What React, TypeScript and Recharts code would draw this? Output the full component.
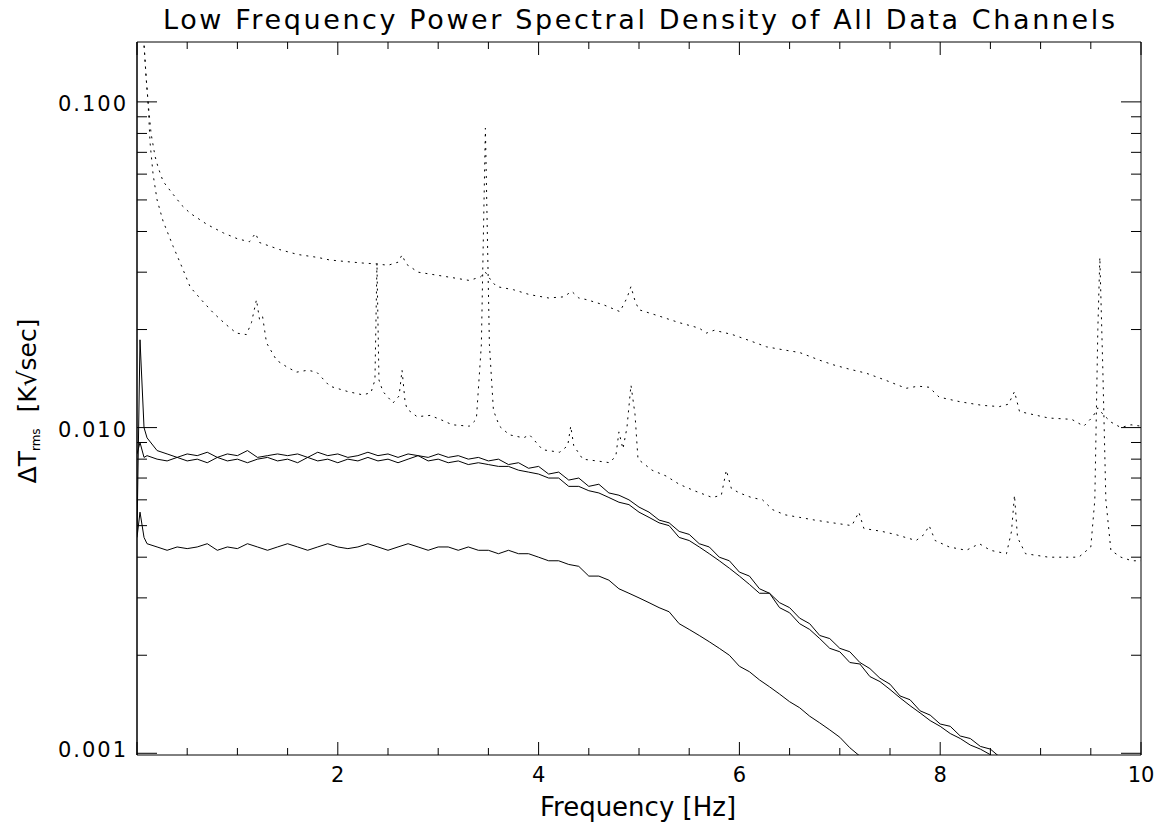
import React from 'react';
import { LineChart, Line, XAxis, YAxis, Customized } from 'recharts';

// ---------- axis definitions ----------
const xTicks = [0, 0.5, 1, 1.5, 2, 2.5, 3, 3.5, 4, 4.5, 5, 5.5, 6, 6.5, 7, 7.5, 8, 8.5, 9, 9.5, 10];
const xMajor = [0, 2, 4, 6, 8, 10];
const xLabeled = [2, 4, 6, 8, 10];
const yTicks = [0.001, 0.002, 0.003, 0.004, 0.005, 0.006, 0.007, 0.008, 0.009,
  0.01, 0.02, 0.03, 0.04, 0.05, 0.06, 0.07, 0.08, 0.09, 0.1];
const yMajor = [0.001, 0.01, 0.1];

// ---------- solid channels (shared frequency grid, Hz) ----------
const solidFreq = [0, 0.03, 0.07,
  0.1, 0.2, 0.3, 0.4, 0.5, 0.6, 0.7, 0.8, 0.9, 1.0,
  1.1, 1.2, 1.3, 1.4, 1.5, 1.6, 1.7, 1.8, 1.9, 2.0,
  2.1, 2.2, 2.3, 2.4, 2.5, 2.6, 2.7, 2.8, 2.9, 3.0,
  3.1, 3.2, 3.3, 3.4, 3.5, 3.6, 3.7, 3.8, 3.9, 4.0,
  4.1, 4.2, 4.3, 4.4, 4.5, 4.6, 4.7, 4.8, 4.9, 5.0,
  5.1, 5.2, 5.3, 5.4, 5.5, 5.6, 5.7, 5.8, 5.9, 6.0,
  6.1, 6.2, 6.3, 6.4, 6.5, 6.6, 6.7, 6.8, 6.9, 7.0,
  7.1, 7.2, 7.3, 7.4, 7.5, 7.6, 7.7, 7.8, 7.9, 8.0,
  8.1, 8.2, 8.3, 8.4, 8.5, 8.6, 8.7, 8.8];

const channelA = [0.0047, 0.0186, 0.0100,
  0.0093, 0.0085, 0.0083, 0.0081, 0.0083, 0.0082, 0.0084, 0.0081, 0.0083, 0.0082,
  0.0085, 0.0081, 0.0082, 0.0083, 0.0082, 0.0083, 0.0081, 0.0084, 0.0082, 0.0083,
  0.0081, 0.0082, 0.0084, 0.0082, 0.0083, 0.0081, 0.0083, 0.0082, 0.0081, 0.0083,
  0.0081, 0.0082, 0.0080, 0.0081, 0.0079, 0.0080, 0.0077, 0.0078, 0.0075, 0.0076,
  0.0072, 0.0073, 0.0069, 0.0070, 0.0066, 0.0067, 0.0063, 0.0062, 0.0060, 0.0057,
  0.0055, 0.0052, 0.0051, 0.0048, 0.0047, 0.0044, 0.0043, 0.0040, 0.0039, 0.0036,
  0.0035, 0.0032, 0.0031, 0.0029, 0.0028, 0.0026, 0.0025, 0.0023, 0.00225, 0.0021,
  0.00205, 0.0019, 0.00182, 0.0017, 0.00163, 0.0015, 0.00146, 0.00135, 0.00131, 0.00123,
  0.00121, 0.00113, 0.00111, 0.00105, 0.00103, 0.00097, 0.00096, 0.00091];

const channelB = [0.0083, 0.0090, 0.0081,
  0.0082, 0.0080, 0.0079, 0.0081, 0.0079, 0.0080, 0.0078, 0.0081, 0.0079, 0.0080,
  0.0078, 0.0080, 0.0081, 0.0079, 0.0080, 0.0078, 0.0081, 0.0079, 0.0080, 0.0078,
  0.0080, 0.0079, 0.0081, 0.0079, 0.0080, 0.0078, 0.0080, 0.0082, 0.0079, 0.0080,
  0.0078, 0.0079, 0.0077, 0.0078, 0.0077, 0.0076, 0.0076, 0.0074, 0.0073, 0.0072,
  0.0070, 0.0070, 0.0066, 0.0066, 0.0064, 0.0063, 0.0061, 0.0059, 0.0058, 0.0055,
  0.0053, 0.0051, 0.0050, 0.0046, 0.0045, 0.0043, 0.0041, 0.0039, 0.0037, 0.0035,
  0.0033, 0.0031, 0.0031, 0.0028, 0.0027, 0.0025, 0.0024, 0.00225, 0.0021, 0.00205,
  0.0019, 0.00188, 0.00172, 0.00166, 0.00157, 0.00148, 0.0014, 0.00133, 0.00126, 0.00121,
  0.00115, 0.00111, 0.00106, 0.00103, 0.00099, 0.00094];

const channelC = [0.0046, 0.0055, 0.0046,
  0.0044, 0.0043, 0.0042, 0.0043, 0.00425, 0.0043, 0.0044, 0.0042, 0.0043, 0.00425,
  0.0044, 0.0043, 0.0042, 0.0043, 0.0044, 0.0043, 0.0042, 0.0043, 0.0044, 0.0043,
  0.00425, 0.0043, 0.0044, 0.0043, 0.0042, 0.0043, 0.0044, 0.0043, 0.0042, 0.0043,
  0.0043, 0.0042, 0.0043, 0.0042, 0.0042, 0.0041, 0.0042, 0.0041, 0.0041, 0.0040,
  0.0039, 0.0039, 0.0038, 0.00375, 0.0035, 0.0035, 0.0034, 0.0032, 0.0031, 0.0030,
  0.0029, 0.0028, 0.00272, 0.0025, 0.0024, 0.0023, 0.0022, 0.0021, 0.0020, 0.00185,
  0.00178, 0.00168, 0.0016, 0.00152, 0.00144, 0.00138, 0.0013, 0.00124, 0.00118, 0.00112,
  0.00104, 0.00098];

// ---------- dotted channels ----------
const upperDotFreq = [0.04, 0.07, 0.09, 0.11, 0.14, 0.18, 0.21, 0.26, 0.36, 0.45, 0.53, 0.7, 0.86, 1.0,
  1.12, 1.18, 1.22, 1.42, 1.6, 1.8, 1.92, 2.1, 2.25, 2.39, 2.5, 2.6, 2.64, 2.68, 2.8, 2.92,
  3.1, 3.31, 3.42, 3.47, 3.52, 3.58, 3.75, 3.91, 4.1, 4.25, 4.33, 4.4, 4.48, 4.65, 4.81,
  4.88, 4.92, 4.96, 5.0, 5.2, 5.4, 5.6, 5.67, 5.75, 5.93, 6.1, 6.27, 6.45, 6.6, 6.8, 6.93,
  7.1, 7.26, 7.45, 7.66, 7.78, 7.89, 7.99, 8.2, 8.42, 8.59, 8.68, 8.74, 8.79, 9.08, 9.31,
  9.43, 9.52, 9.57, 9.62, 9.7, 9.8, 9.9, 10.0];
const upperDotVal = [0.20, 0.15, 0.12, 0.10, 0.080, 0.068, 0.063, 0.057, 0.052, 0.048, 0.0455, 0.042, 0.0396, 0.038,
  0.0372, 0.0395, 0.0370, 0.0352, 0.0340, 0.0333, 0.0327, 0.0323, 0.0320, 0.0318, 0.0315, 0.0322, 0.0339, 0.0318, 0.0300, 0.0296,
  0.0290, 0.0283, 0.0290, 0.0300, 0.0285, 0.0271, 0.0265, 0.0256, 0.0250, 0.0252, 0.0262, 0.0250, 0.0247, 0.0238, 0.0227,
  0.0250, 0.0271, 0.0245, 0.0230, 0.0220, 0.0210, 0.0202, 0.0195, 0.0199, 0.0193, 0.0185, 0.0177, 0.0173, 0.0170, 0.0161, 0.0156,
  0.0151, 0.0147, 0.0140, 0.0132, 0.0134, 0.0133, 0.0124, 0.0120, 0.0117, 0.0116, 0.0118, 0.0129, 0.0112, 0.0107, 0.0106,
  0.0101, 0.0108, 0.0115, 0.0110, 0.0104, 0.0100, 0.0102, 0.0101];

const lowerDotFreq = [0.04, 0.07, 0.09, 0.11, 0.13, 0.16, 0.2, 0.26, 0.36, 0.45, 0.53, 0.65, 0.76, 0.88, 0.99,
  1.09, 1.14, 1.19, 1.22, 1.25, 1.29, 1.39, 1.5, 1.59, 1.7, 1.79, 1.92, 2.1, 2.25, 2.33, 2.37, 2.39, 2.41,
  2.45, 2.55, 2.61, 2.64, 2.67, 2.69, 2.79, 2.92, 3.05, 3.14, 3.31, 3.38, 3.43, 3.47, 3.51, 3.55, 3.61,
  3.71, 3.85, 3.91, 4.04, 4.21, 4.29, 4.32, 4.35, 4.44, 4.58, 4.71, 4.77, 4.8, 4.84, 4.88, 4.92, 4.96,
  4.99, 5.13, 5.27, 5.4, 5.55, 5.73, 5.82, 5.87, 5.92, 6.0, 6.12, 6.23, 6.33, 6.45, 6.6, 6.75, 6.93,
  7.12, 7.19, 7.24, 7.42, 7.55, 7.76, 7.84, 7.89, 7.95, 8.09, 8.26, 8.39, 8.5, 8.66, 8.71, 8.74, 8.77,
  8.85, 9.08, 9.25, 9.38, 9.5, 9.54, 9.57, 9.59, 9.62, 9.65, 9.7, 9.8, 9.91, 10.0];
const lowerDotVal = [0.20, 0.15, 0.12, 0.10, 0.075, 0.060, 0.050, 0.043, 0.036, 0.031, 0.027, 0.0245, 0.0225, 0.0208, 0.0195,
  0.0193, 0.0210, 0.0247, 0.0215, 0.0220, 0.0182, 0.0161, 0.0153, 0.0148, 0.0150, 0.0148, 0.0134, 0.0129, 0.0126, 0.0128, 0.0140, 0.0320, 0.0140,
  0.0129, 0.0119, 0.0125, 0.0150, 0.0120, 0.0114, 0.0108, 0.0109, 0.0105, 0.0102, 0.0101, 0.0106, 0.0180, 0.0830, 0.0180, 0.0113, 0.0101,
  0.0095, 0.0093, 0.0095, 0.00855, 0.0084, 0.0088, 0.0101, 0.0088, 0.0080, 0.0079, 0.0078, 0.0082, 0.0097, 0.0086, 0.0100, 0.0135, 0.0110,
  0.0080, 0.0074, 0.0071, 0.0067, 0.0064, 0.0061, 0.0062, 0.0074, 0.0065, 0.0063, 0.0061, 0.0060, 0.0056, 0.0054, 0.0053, 0.0052, 0.0051,
  0.0050, 0.0055, 0.0049, 0.0048, 0.0047, 0.0045, 0.0047, 0.0050, 0.0045, 0.0043, 0.0042, 0.0044, 0.0042, 0.0041, 0.0048, 0.0062, 0.0046,
  0.0041, 0.0040, 0.0040, 0.0040, 0.0043, 0.0060, 0.0200, 0.0333, 0.0150, 0.0060, 0.0042, 0.0040, 0.0039, 0.0039];

const build = (freq: number[], vals: number[]) => vals.map((v, i) => ({ f: freq[i], v }));
const dataA = build(solidFreq, channelA);
const dataB = build(solidFreq, channelB);
const dataC = build(solidFreq, channelC);
const dataD1 = build(upperDotFreq, upperDotVal);
const dataD2 = build(lowerDotFreq, lowerDotVal);

const FONT = '"DejaVu Sans", "Liberation Sans", sans-serif';
const INK = '#000';

const BottomTick = (p: any) => {
  const { x, y, payload } = p;
  const v = payload.value;
  const major = xMajor.includes(v);
  return (
    <g>
      <line x1={x} x2={x} y1={y} y2={y - (major ? 13 : 7)} stroke={INK} strokeWidth={1} />
      {xLabeled.includes(v) && (
        <text x={x} y={y + 27} textAnchor="middle" fontSize={21} fontFamily={FONT} fill={INK}>{v}</text>
      )}
    </g>
  );
};
const TopTick = (p: any) => {
  const { x, y, payload } = p;
  const major = xMajor.includes(payload.value);
  return <line x1={x} x2={x} y1={y} y2={y + (major ? 13 : 7)} stroke={INK} strokeWidth={1} />;
};
const LeftTick = (p: any) => {
  const { x, y, payload } = p;
  const v = payload.value;
  const major = yMajor.includes(v);
  return (
    <g>
      <line x1={x} x2={x + (major ? 20 : 10)} y1={y} y2={y} stroke={INK} strokeWidth={1} />
      {major && (
        <text x={x - 11} y={y + (v === 0.001 ? 4 : 9)} textAnchor="end" fontSize={21} fontFamily={FONT} fill={INK}
          textLength={68} lengthAdjust="spacing">
          {v.toFixed(3)}
        </text>
      )}
    </g>
  );
};
const RightTick = (p: any) => {
  const { x, y, payload } = p;
  const major = yMajor.includes(payload.value);
  return <line x1={x} x2={x - (major ? 20 : 10)} y1={y} y2={y} stroke={INK} strokeWidth={1} />;
};

const Texts = () => (
  <g fontFamily={FONT} fill={INK}>
    <text x={639} y={29} textAnchor="middle" fontSize={27} textLength={952} lengthAdjust="spacing">
      Low Frequency Power Spectral Density of All Data Channels
    </text>
    <text x={638} y={816} textAnchor="middle" fontSize={26}>Frequency [Hz]</text>
    <text transform="translate(36,401) rotate(-90)" textAnchor="middle" fontSize={25}>
      ΔT<tspan fontSize={12} dy={4}>rms</tspan><tspan dy={-4}>{'\u00a0\u00a0[K√sec]'}</tspan>
    </text>
  </g>
);

export default function App() {
  const W = 1170;
  const H = 834;
  return (
    <div>
      <style>{'body{margin:0}'}</style>
      <LineChart width={W} height={H} margin={{ top: 41, left: 136, right: 28, bottom: 78 }}>
        <XAxis xAxisId="b" dataKey="f" type="number" domain={[0, 10]} ticks={xTicks} interval={0}
          allowDataOverflow orientation="bottom" height={1} tickSize={0} tickMargin={0} tickLine={false}
          axisLine={{ stroke: INK }} tick={BottomTick} />
        <XAxis xAxisId="t" dataKey="f" type="number" domain={[0, 10]} ticks={xTicks} interval={0}
          allowDataOverflow orientation="top" height={1} tickSize={0} tickMargin={0} tickLine={false}
          axisLine={{ stroke: INK }} tick={TopTick} />
        <YAxis yAxisId="l" dataKey="v" type="number" scale="log" domain={[0.000988, 0.1527]} ticks={yTicks}
          interval={0} allowDataOverflow orientation="left" width={1} tickSize={0} tickMargin={0} tickLine={false}
          axisLine={{ stroke: INK, strokeWidth: 1.5 }} tick={LeftTick} />
        <YAxis yAxisId="r" dataKey="v" type="number" scale="log" domain={[0.000988, 0.1527]} ticks={yTicks}
          interval={0} allowDataOverflow orientation="right" width={1} tickSize={0} tickMargin={0} tickLine={false}
          axisLine={{ stroke: INK }} tick={RightTick} />
        <Line xAxisId="b" yAxisId="l" data={dataD1} dataKey="v" type="linear" dot={false} stroke={INK}
          strokeWidth={1} strokeDasharray="2 5" isAnimationActive={false} />
        <Line xAxisId="b" yAxisId="l" data={dataD2} dataKey="v" type="linear" dot={false} stroke={INK}
          strokeWidth={1} strokeDasharray="2 5" isAnimationActive={false} />
        <Line xAxisId="b" yAxisId="l" data={dataA} dataKey="v" type="linear" dot={false} stroke={INK}
          strokeWidth={1} isAnimationActive={false} />
        <Line xAxisId="b" yAxisId="l" data={dataB} dataKey="v" type="linear" dot={false} stroke={INK}
          strokeWidth={1} isAnimationActive={false} />
        <Line xAxisId="b" yAxisId="l" data={dataC} dataKey="v" type="linear" dot={false} stroke={INK}
          strokeWidth={1} isAnimationActive={false} />
        <Line xAxisId="t" yAxisId="r" data={dataC} dataKey="v" type="linear" dot={false} stroke="none"
          strokeWidth={0} isAnimationActive={false} />
        <Customized component={Texts} />
      </LineChart>
    </div>
  );
}
